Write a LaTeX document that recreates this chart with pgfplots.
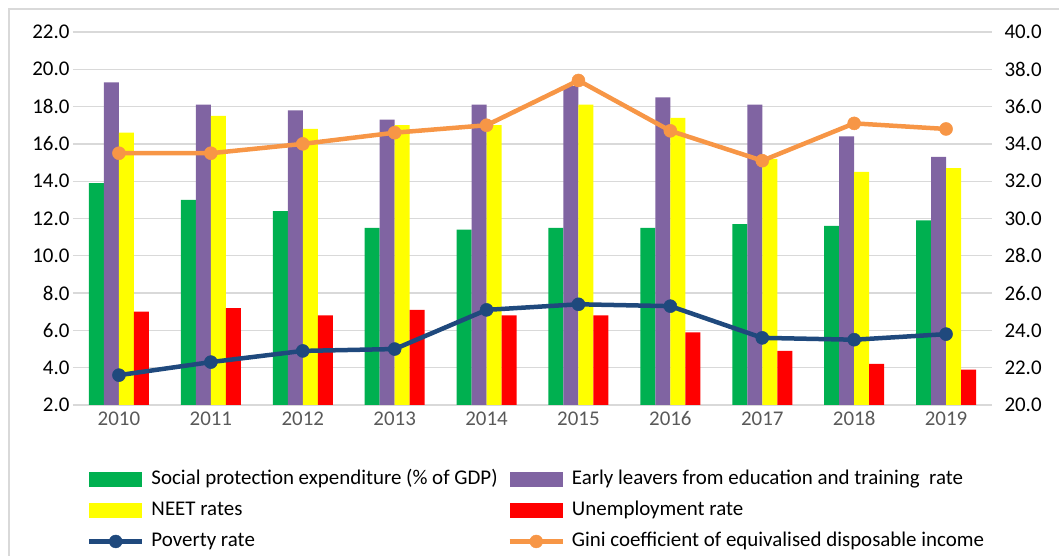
\documentclass[border=0pt]{standalone}
\usepackage{fontspec}
\setmainfont{Carlito}
\usepackage{pgfplots}
\pgfplotsset{compat=1.18}
\definecolor{cgreen}{HTML}{00B050}
\definecolor{cpurple}{HTML}{8064A2}
\definecolor{cyellow}{HTML}{FFFF00}
\definecolor{cred}{HTML}{FF0000}
\definecolor{cnavy}{HTML}{1F497D}
\definecolor{corange}{HTML}{F79646}
\definecolor{gridgray}{HTML}{D9D9D9}
\definecolor{xgray}{HTML}{595959}
\begin{document}
\begin{tikzpicture}[x=1bp,y=1bp]
\useasboundingbox (-73,-151) rectangle (986,405);
\draw[gridgray, line width=1.5bp] (-64,-200) -- (-64,396) -- (1100,396);
\begin{axis}[
  scale only axis, width=919bp, height=373bp,
  xmin=-0.5, xmax=9.5, ymin=2, ymax=22, enlargelimits=false,
  ybar=0pt, bar width=15bp,
  xtick={0,1,2,3,4,5,6,7,8,9},
  xticklabels={2010,2011,2012,2013,2014,2015,2016,2017,2018,2019},
  ytick={2,4,6,8,10,12,14,16,18,20,22},
  axis line style={draw=none}, major tick length=0pt, tick style={draw=none},
  ymajorgrids, grid style={line width=1.3bp, gridgray},
  /pgf/number format/assume math mode=true,
  yticklabel style={/pgf/number format/.cd, fixed, fixed zerofill, precision=1, /tikz/.cd, font=\fontsize{21}{25}\selectfont, text=black},
  xticklabel style={font=\fontsize{21}{25}\selectfont, text=xgray, yshift=-3bp},
  legend columns=2,
  legend cell align=left,
  legend style={draw=none, fill=none, inner sep=0pt, outer sep=0pt,
    at={(0.01523,-0.1729)}, anchor=north west,
    font=\fontsize{21}{25}\selectfont,
    nodes={inner sep=1bp, text height=14bp, text depth=4bp},
    row sep=11bp,
    /tikz/every odd column/.append style={column sep=6bp},
    /tikz/every even column/.append style={column sep=8bp}},
]
\addplot[fill=cgreen, draw=none, legend image code/.code={\fill[cgreen] (0bp,-7.5bp) rectangle (53bp,7.5bp);}] coordinates {
(0,13.9) (1,13.0) (2,12.4) (3,11.5) (4,11.4) (5,11.5) (6,11.5) (7,11.7) (8,11.6) (9,11.9)};
\addlegendentry{\makebox[347bp][l]{Social protection expenditure (\% of GDP)}}
\addplot[fill=cpurple, draw=none, legend image code/.code={\fill[cpurple] (0bp,-7.5bp) rectangle (53bp,7.5bp);}] coordinates {
(0,19.3) (1,18.1) (2,17.8) (3,17.3) (4,18.1) (5,19.1) (6,18.5) (7,18.1) (8,16.4) (9,15.3)};
\addlegendentry{Early leavers from education and training\ \ rate}
\addplot[fill=cyellow, draw=none, legend image code/.code={\fill[cyellow] (0bp,-7.5bp) rectangle (53bp,7.5bp);}] coordinates {
(0,16.6) (1,17.5) (2,16.8) (3,17.0) (4,17.0) (5,18.1) (6,17.4) (7,15.2) (8,14.5) (9,14.7)};
\addlegendentry{NEET rates}
\addplot[fill=cred, draw=none, legend image code/.code={\fill[cred] (0bp,-7.5bp) rectangle (53bp,7.5bp);}] coordinates {
(0,7.0) (1,7.2) (2,6.8) (3,7.1) (4,6.8) (5,6.8) (6,5.9) (7,4.9) (8,4.2) (9,3.9)};
\addlegendentry{Unemployment rate}
\addlegendimage{legend image code/.code={\draw[cnavy, line width=4.5bp] (0bp,0bp) -- (53bp,0bp); \fill[cnavy] (26.5bp,0bp) circle (6.5bp);}}
\addlegendentry{Poverty rate}
\addlegendimage{legend image code/.code={\draw[corange, line width=4.5bp] (0bp,0bp) -- (53bp,0bp); \fill[corange] (26.5bp,0bp) circle (6.5bp);}}
\addlegendentry{Gini coefficient of equivalised disposable income}
\end{axis}
\begin{axis}[
  scale only axis, width=919bp, height=373bp,
  xmin=-0.5, xmax=9.5, ymin=20, ymax=40, enlargelimits=false,
  axis y line*=right, axis x line=none,
  ytick={20,22,24,26,28,30,32,34,36,38,40},
  axis line style={draw=none}, major tick length=0pt, tick style={draw=none},
  /pgf/number format/assume math mode=true,
  yticklabel style={/pgf/number format/.cd, fixed, fixed zerofill, precision=1, /tikz/.cd, font=\fontsize{21}{25}\selectfont, text=black, xshift=9bp},
]
\addplot[cnavy, line width=4.5bp, mark=*, mark size=6.5bp, mark options={fill=cnavy, draw=cnavy, line width=0.5bp}] coordinates {
(0,21.6) (1,22.3) (2,22.9) (3,23.0) (4,25.1) (5,25.4) (6,25.3) (7,23.6) (8,23.5) (9,23.8)};
\addplot[corange, line width=4.5bp, mark=*, mark size=6.5bp, mark options={fill=corange, draw=corange, line width=0.5bp}] coordinates {
(0,33.5) (1,33.5) (2,34.0) (3,34.6) (4,35.0) (5,37.4) (6,34.7) (7,33.1) (8,35.1) (9,34.8)};
\end{axis}
\end{tikzpicture}
\end{document}
